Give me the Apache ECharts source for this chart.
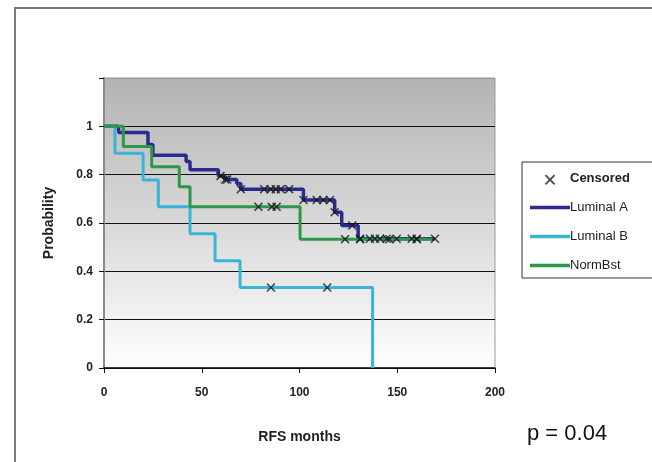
<!DOCTYPE html>
<html lang="en">
	<head>
		<meta charset="UTF-8">
		<title>RFS</title>
		<script src="https://cdn.jsdelivr.net/npm/echarts@6/dist/echarts.min.js"></script>
		<style>
			html, body {
				margin: 0;
				padding: 0;
				background: #fff;
			}
			#main {
				width: 652px;
				height: 462px;
			}
		</style>
	</head>

	<body>
		<div id="main"></div>
	</body>

	<script>
		// step curves: event times and survival after each step
		let lumATimes = [0, 7.5, 22.5, 25, 42, 44, 58.5, 62, 67.9, 70, 102, 118, 121.6, 130, 169.3];
		let lumASurv = [1, 0.975, 0.925, 0.88, 0.855, 0.82, 0.795, 0.78, 0.763, 0.74, 0.695, 0.645, 0.59, 0.535, 0.535];
		let lumACens = [59.6, 62, 63, 70, 81.9, 85.3, 87.9, 90.4, 94.7, 102, 108.8, 112.2, 115.6, 118, 127, 131, 136, 138.6, 141.2, 144.6, 149.7, 157.4, 160, 169.3];

		let lumBTimes = [0, 5.6, 20, 27.8, 44, 56.8, 69.6, 137.4];
		let lumBSurv = [1, 0.889, 0.778, 0.667, 0.556, 0.444, 0.333, 0];
		let lumBCens = [85.4, 114.2];

		let normTimes = [0, 9.9, 24.4, 38.5, 44, 100.3, 168];
		let normSurv = [1, 0.917, 0.833, 0.75, 0.667, 0.533, 0.533];
		let normCens = [79, 85.8, 88.3, 123.3, 131, 146, 160];

		let xTicks = [0, 50, 100, 150, 200];
		let yTicks = [0, 0.2, 0.4, 0.6, 0.8, 1];

		function pairs(times, surv) {
			let out = [];
			for (let i = 0; i < times.length; i++) {
				out.push([times[i], surv[i]]);
			}
			return out;
		}

		function survAt(times, surv, t) {
			let v = surv[0];
			for (let i = 0; i < times.length; i++) {
				if (times[i] <= t) v = surv[i];
			}
			return v;
		}

		let censored = [];
		lumACens.forEach(t => censored.push([t, survAt(lumATimes, lumASurv, t)]));
		lumBCens.forEach(t => censored.push([t, survAt(lumBTimes, lumBSurv, t)]));
		normCens.forEach(t => censored.push([t, survAt(normTimes, normSurv, t)]));

		let cross = 'path://M0,1.2L1.2,0L5,3.8L8.8,0L10,1.2L6.2,5L10,8.8L8.8,10L5,6.2L1.2,10L0,8.8L3.8,5Z';
		let smallCross = 'path://M12,4.6L13.2,3.4L17,7.2L20.8,3.4L22,4.6L18.2,8.4L22,12.2L20.8,13.4L17,9.6L13.2,13.4L12,12.2L15.8,8.4ZM0,0H34V0.01H0Z';
		let bar = 'path://M0,0H40V3.5H0Z';
		let fontBase = 'Liberation Sans, Arial, sans-serif';

		let option = {
			animation: false,
			textStyle: { fontFamily: fontBase },
			grid: {
				left: 104,
				right: 157,
				top: 78,
				bottom: 94,
				show: true,
				borderColor: '#9a9a9a',
				borderWidth: 1,
				backgroundColor: {
					type: 'linear', x: 0, y: 0, x2: 0, y2: 1,
					colorStops: [
						{ offset: 0, color: '#b3b3b3' },
						{ offset: 1, color: '#ffffff' }
					]
				}
			},
			xAxis: {
				type: 'value',
				min: 0,
				max: 200,
				interval: 50,
				name: 'RFS months',
				nameLocation: 'middle',
				nameGap: 62,
				nameTextStyle: { fontWeight: 'bold', fontSize: 14, color: '#222' },
				axisLine: { lineStyle: { color: '#111', width: 1.5 } },
				axisTick: { show: true, length: 5, lineStyle: { color: '#111' } },
				axisLabel: {
					fontWeight: 'bold', fontSize: 12, color: '#222', margin: 19,
					formatter: v => xTicks.indexOf(v) >= 0 ? String(v) : ''
				},
				splitLine: { show: false }
			},
			yAxis: {
				type: 'value',
				min: 0,
				max: 1.2,
				interval: 0.2,
				name: 'Probability',
				nameLocation: 'middle',
				nameGap: 48,
				nameTextStyle: { fontWeight: 'bold', fontSize: 14, color: '#222' },
				axisLine: { show: true, lineStyle: { color: '#8a8a8a', width: 2 } },
				axisTick: { show: true, length: 5, lineStyle: { color: '#111' } },
				axisLabel: {
					fontWeight: 'bold', fontSize: 12, color: '#222', margin: 11,
					formatter: v => {
						let r = Math.round(v * 10) / 10;
						return yTicks.indexOf(r) >= 0 ? String(r) : '';
					}
				},
				splitLine: {
					show: true,
					lineStyle: {
						color: ['#111', '#111', '#111', '#111', '#111', '#111', '#9a9a9a'],
						width: 1
					}
				}
			},
			legend: {
				orient: 'vertical',
				left: 525,
				top: 166,
				itemWidth: 40,
				itemHeight: 14,
				itemGap: 16,
				textStyle: { fontSize: 13, color: '#222', padding: [0, 0, 0, -5] },
				data: [
					{ name: 'Censored', icon: smallCross, textStyle: { fontWeight: 'bold', fontSize: 13 } },
					{ name: 'Luminal A', icon: bar },
					{ name: 'Luminal B', icon: bar },
					{ name: 'NormBst', icon: bar }
				]
			},
			graphic: [
				{
					type: 'rect',
					shape: { x: 15, y: 8, width: 700, height: 520 },
					style: { fill: 'none', stroke: '#7a7a7a', lineWidth: 2 },
					silent: true
				},
				{
					type: 'rect',
					shape: { x: 522, y: 162, width: 200, height: 116 },
					style: { fill: 'none', stroke: '#333', lineWidth: 1 },
					silent: true
				},
				{
					type: 'text',
					left: 527,
					top: 423,
					style: { text: 'p = 0.04', fontSize: 22, fontFamily: fontBase, fill: '#111' }
				}
			],
			series: [
				{
					name: 'Luminal A',
					type: 'line',
					step: 'end',
					symbol: 'none',
					lineStyle: { color: '#2c2a8e', width: 3.5 },
					itemStyle: { color: '#2c2a8e' },
					data: pairs(lumATimes, lumASurv)
				},
				{
					name: 'Luminal B',
					type: 'line',
					step: 'end',
					symbol: 'none',
					lineStyle: { color: '#3ab4d6', width: 3 },
					itemStyle: { color: '#3ab4d6' },
					data: pairs(lumBTimes, lumBSurv)
				},
				{
					name: 'NormBst',
					type: 'line',
					step: 'end',
					symbol: 'none',
					lineStyle: { color: '#2a9848', width: 3 },
					itemStyle: { color: '#2a9848' },
					data: pairs(normTimes, normSurv)
				},
				{
					name: 'Censored',
					type: 'scatter',
					symbol: cross,
					symbolSize: 9,
					itemStyle: { color: '#1a1a1a' },
					data: censored,
					z: 5
				}
			]
		};

		let echart = echarts.init(document.getElementById('main'));
		echart.setOption(option);
	</script>
</html>
